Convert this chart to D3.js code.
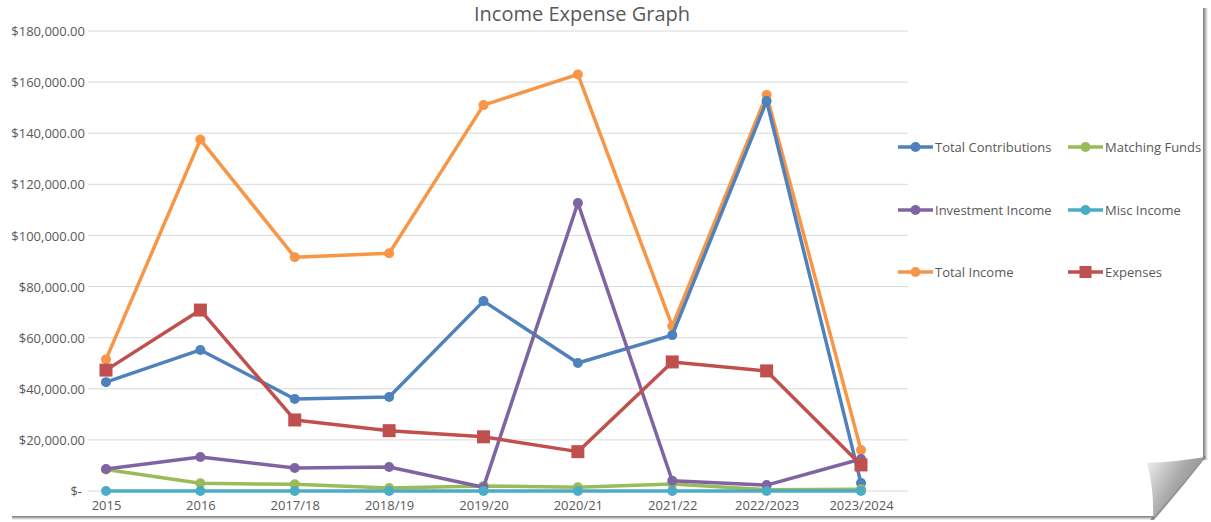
<!DOCTYPE html>
<html><head><meta charset="utf-8">
<script src="https://cdn.jsdelivr.net/npm/d3@7/dist/d3.min.js"></script>
<style>body{margin:0;background:#fff}svg{display:block}text{font-family:"Open Sans","Noto Sans",sans-serif}</style>
</head><body><svg id="c" width="1211" height="522"></svg>
<script>
const categories = ["2015","2016","2017/18","2018/19","2019/20","2020/21","2021/22","2022/2023","2023/2024"];
const totalContributions = [42600,55200,36000,36800,74300,50100,61000,152600,3100];
const matchingFunds = [8400,3000,2600,1200,2000,1500,2700,500,700];
const investmentIncome = [8600,13300,9000,9400,1500,112700,4000,2300,12500];
const miscIncome = [0,0,0,0,0,0,0,0,0];
const totalIncome = [51500,137500,91500,93000,151000,163000,64500,155000,16000];
const expenses = [47300,70800,27800,23600,21200,15400,50500,47000,10200];
const yTicks = [0,20000,40000,60000,80000,100000,120000,140000,160000,180000];
const seriesNames = ["Total Contributions","Matching Funds","Investment Income","Misc Income","Total Income","Expenses"];

const series = [
  {name:seriesNames[0], values:totalContributions, color:"#4F81BD", marker:"circle"},
  {name:seriesNames[1], values:matchingFunds, color:"#9BBB59", marker:"circle"},
  {name:seriesNames[2], values:investmentIncome, color:"#8064A2", marker:"circle"},
  {name:seriesNames[3], values:miscIncome, color:"#4BACC6", marker:"circle"},
  {name:seriesNames[4], values:totalIncome, color:"#F79646", marker:"circle"},
  {name:seriesNames[5], values:expenses, color:"#C0504D", marker:"square"}
];
const drawOrder = [4,0,1,2,3,5];

const svg = d3.select("#c");
const defs = svg.append("defs");
const gr = defs.append("linearGradient").attr("id","rs").attr("x1",0).attr("x2",1);
gr.append("stop").attr("offset","0").attr("stop-color","#777");
gr.append("stop").attr("offset","1").attr("stop-color","#fff");
const gb = defs.append("linearGradient").attr("id","bs").attr("x1",0).attr("x2",0).attr("y1",0).attr("y2",1);
gb.append("stop").attr("offset","0").attr("stop-color","#777");
gb.append("stop").attr("offset","1").attr("stop-color","#fff");
const gc = defs.append("linearGradient").attr("id","curl").attr("x1",0).attr("y1",0).attr("x2",1).attr("y2",0.6);
gc.append("stop").attr("offset","0").attr("stop-color","#f2f2f2");
gc.append("stop").attr("offset","0.55").attr("stop-color","#a8a8a8");
gc.append("stop").attr("offset","1").attr("stop-color","#8a8a8a");

// page shadows
svg.append("rect").attr("x",1203).attr("y",8).attr("width",5).attr("height",452).attr("fill","url(#rs)");
svg.append("rect").attr("x",12).attr("y",516).attr("width",1142).attr("height",4).attr("fill","url(#bs)");
// fold shadow
svg.append("path").attr("d","M1206,457 Q1180,490 1154,520 L1150,520 Q1176,488 1204,456 Z").attr("fill","#666").attr("opacity",0.7);
// curl
svg.append("path").attr("d","M1147,463 Q1175,462 1205,457 Q1178,488 1153,518 Q1154,488 1147,463 Z").attr("fill","url(#curl)");

const x = d3.scalePoint().domain(categories).range([106,861]);
const y = d3.scaleLinear().domain([0,180000]).range([491,31]);

// gridlines
svg.append("g").selectAll("line").data(yTicks).join("line")
  .attr("x1",88).attr("x2",908).attr("y1",d=>y(d)).attr("y2",d=>y(d))
  .attr("stroke","#d9d9d9").attr("stroke-width",1);

// y axis
const fmt = d3.format(",.2f");
const yAxis = d3.axisLeft(y).tickValues(yTicks).tickSize(0).tickPadding(0)
  .tickFormat(d=> d===0 ? "$-" : "$"+fmt(d));
const ya = svg.append("g").attr("transform","translate(85,0)").call(yAxis);
ya.select(".domain").remove();
ya.selectAll("text").attr("fill","#595959").style("font-size","13px").attr("dy","0.35em");
ya.selectAll("text").filter(d=>d===0).attr("dx","-3");

// x axis
const xAxis = d3.axisBottom(x).tickSize(0).tickPadding(0);
const xa = svg.append("g").attr("transform","translate(0,505)").call(xAxis);
xa.select(".domain").remove();
xa.selectAll("text").attr("fill","#595959").style("font-size","13px").attr("dy","0.35em");

// title
svg.append("text").attr("x",582).attr("y",21).attr("text-anchor","middle")
  .attr("fill","#595959").style("font-size","20px").text("Income Expense Graph");

const line = d3.line().x((d,i)=>x(categories[i])).y(d=>y(d));
drawOrder.forEach(si=>{
  const s = series[si];
  const g = svg.append("g");
  g.append("path").attr("d",line(s.values)).attr("fill","none")
    .attr("stroke",s.color).attr("stroke-width",3.5).attr("stroke-linejoin","round");
  if(s.marker==="circle"){
    g.selectAll("circle").data(s.values).join("circle")
      .attr("cx",(d,i)=>x(categories[i])).attr("cy",d=>y(d)).attr("r",5).attr("fill",s.color);
  } else {
    g.selectAll("rect").data(s.values).join("rect")
      .attr("x",(d,i)=>x(categories[i])-6.5).attr("y",d=>y(d)-6.5)
      .attr("width",13).attr("height",13).attr("fill",s.color);
  }
});

// legend
const legPos = [[898,147],[1068,147],[898,210],[1068,210],[898,272],[1068,272]];
series.forEach((s,i)=>{
  const [lx,ly] = legPos[i];
  const g = svg.append("g").attr("transform",`translate(${lx},${ly})`);
  g.append("line").attr("x1",0).attr("x2",35).attr("y1",0).attr("y2",0).attr("stroke",s.color).attr("stroke-width",3.5);
  if(s.marker==="circle") g.append("circle").attr("cx",17.5).attr("cy",0).attr("r",5).attr("fill",s.color);
  else g.append("rect").attr("x",11.5).attr("y",-6).attr("width",12).attr("height",12).attr("fill",s.color);
  g.append("text").attr("x",37).attr("y",0).attr("dy","0.35em").attr("fill","#595959").style("font-size","13px").text(s.name);
});
</script></body></html>
